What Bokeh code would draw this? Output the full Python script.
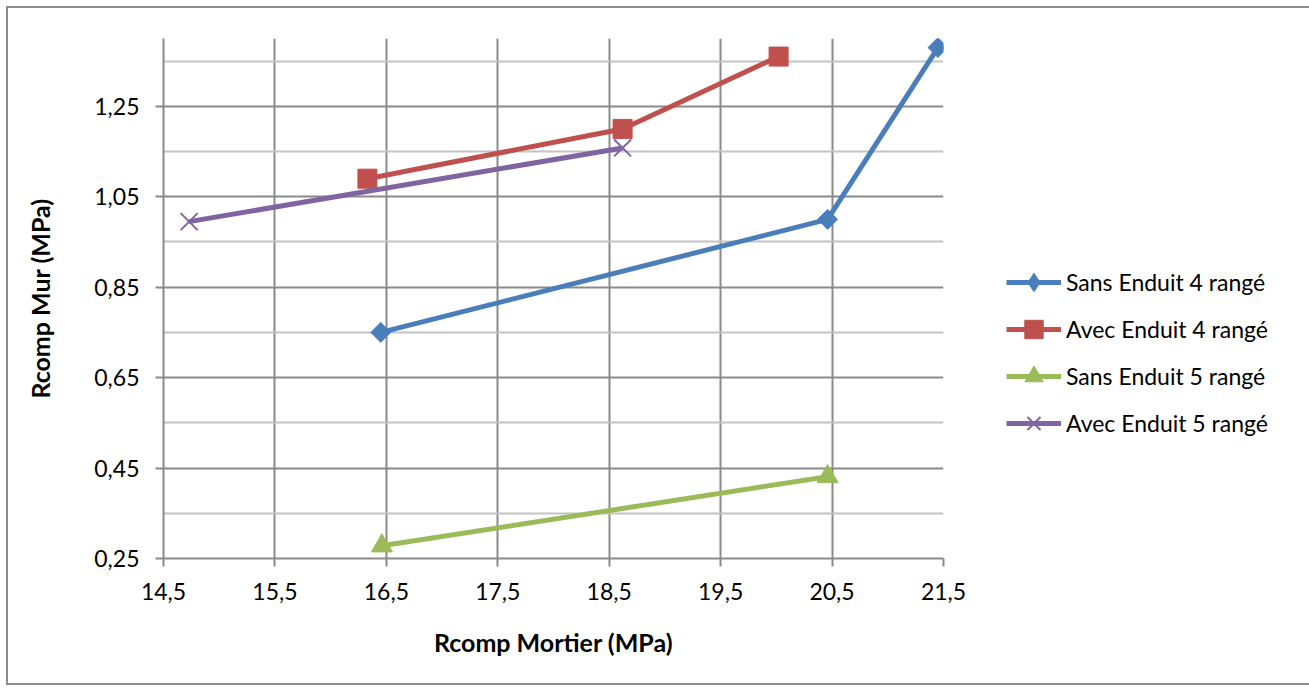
from bokeh.plotting import figure
from bokeh.models import Range1d, FixedTicker, Legend, LegendItem
from bokeh.embed import file_html
from bokeh.resources import INLINE
import math

# ---- data ----
x_sans4 = [16.45, 20.46, 21.45]
y_sans4 = [0.75, 1.00, 1.38]
x_avec4 = [16.33, 18.62, 20.02]
y_avec4 = [1.09, 1.20, 1.36]
x_sans5 = [16.46, 20.46]
y_sans5 = [0.278, 0.431]
x_avec5 = [14.73, 18.62]
y_avec5 = [0.995, 1.158]

x_ticks = [14.5, 15.5, 16.5, 17.5, 18.5, 19.5, 20.5, 21.5]
x_tick_labels = ["14,5", "15,5", "16,5", "17,5", "18,5", "19,5", "20,5", "21,5"]
y_ticks = [0.25, 0.45, 0.65, 0.85, 1.05, 1.25]
y_tick_labels = ["0,25", "0,45", "0,65", "0,85", "1,05", "1,25"]
y_minor = [0.35, 0.55, 0.75, 0.95, 1.15, 1.35]

series_names = ["Sans Enduit 4 rangé", "Avec Enduit 4 rangé", "Sans Enduit 5 rangé", "Avec Enduit 5 rangé"]
colors = ["#4a7ebb", "#c0504d", "#9bbb59", "#8064a2"]

FONT = "Lato"
GRID = "#8a8a8a"

p = figure(width=1297, height=675, output_backend="svg", toolbar_location=None,
           x_range=Range1d(14.5, 21.5), y_range=Range1d(0.25, 1.40),
           frame_width=780, frame_height=520,
           min_border_left=155, min_border_top=30, min_border_right=362, min_border_bottom=125)
p.styles = {"border": "2px solid #8c8c8c", "margin-left": "6px", "margin-top": "6px"}
p.outline_line_color = None
p.background_fill_color = "white"
p.border_fill_color = "white"

p.xaxis.ticker = FixedTicker(ticks=x_ticks)
p.yaxis.ticker = FixedTicker(ticks=y_ticks, minor_ticks=y_minor)
p.xaxis.major_label_overrides = {t: l for t, l in zip(x_ticks, x_tick_labels)}
p.yaxis.major_label_overrides = {t: l for t, l in zip(y_ticks, y_tick_labels)}

for ax in (p.xaxis[0], p.yaxis[0]):
    ax.axis_line_color = GRID
    ax.axis_line_width = 2
    ax.major_tick_line_color = GRID
    ax.major_tick_line_width = 2
    ax.major_tick_out = 8
    ax.major_tick_in = 0
    ax.minor_tick_out = 0
    ax.minor_tick_in = 0
    ax.major_label_text_font = FONT
    ax.major_label_text_font_size = "23px"
    ax.major_label_text_color = "black"
    ax.axis_label_text_font = FONT
    ax.axis_label_text_font_size = "25px"
    ax.axis_label_text_font_style = "bold"
    ax.axis_label_text_color = "black"

p.xaxis.axis_label = "Rcomp Mortier (MPa)"
p.yaxis.axis_label = "Rcomp Mur (MPa)"
p.xaxis.major_label_standoff = 16
p.yaxis.major_label_standoff = 16
p.xaxis.axis_label_standoff = 24
p.yaxis.axis_label_standoff = 36

p.xgrid.grid_line_color = GRID
p.xgrid.grid_line_width = 2
p.ygrid.grid_line_color = GRID
p.ygrid.grid_line_width = 2
p.ygrid.minor_grid_line_color = "#c4c4c4"
p.ygrid.minor_grid_line_width = 2

items = []
xs = [x_sans4, x_avec4, x_sans5, x_avec5]
ys = [y_sans4, y_avec4, y_sans5, y_avec5]
for i, (xx, yy) in enumerate(zip(xs, ys)):
    c = colors[i]
    ln = p.line(xx, yy, line_color=c, line_width=5)
    if i == 0:
        # diamond (used by the legend), covered in the plot by a rotated square
        mk = p.scatter(xx, yy, marker="diamond", size=19, fill_color=c, line_color=c)
        p.scatter(xx, yy, marker="square", size=14, angle=math.pi / 4,
                  fill_color=c, line_color=c)
    elif i == 1:
        mk = p.scatter(xx, yy, marker="square", size=19, fill_color=c, line_color=c)
    elif i == 2:
        mk = p.scatter(xx, yy, marker="triangle", size=21, fill_color=c, line_color=c)
    else:
        mk = p.scatter(xx, yy, marker="x", size=24, line_color=c, line_width=2)
    items.append(LegendItem(label=series_names[i], renderers=[ln, mk]))

legend = Legend(items=items, location=(63, 112), orientation="vertical",
                glyph_width=55, glyph_height=46, label_height=46, spacing=1,
                label_standoff=5, padding=0, margin=0,
                label_text_font=FONT, label_text_font_size="23px",
                label_text_color="black", border_line_color=None,
                background_fill_alpha=0)
p.add_layout(legend, "right")

open("out.html", "w").write(file_html(p, INLINE))
